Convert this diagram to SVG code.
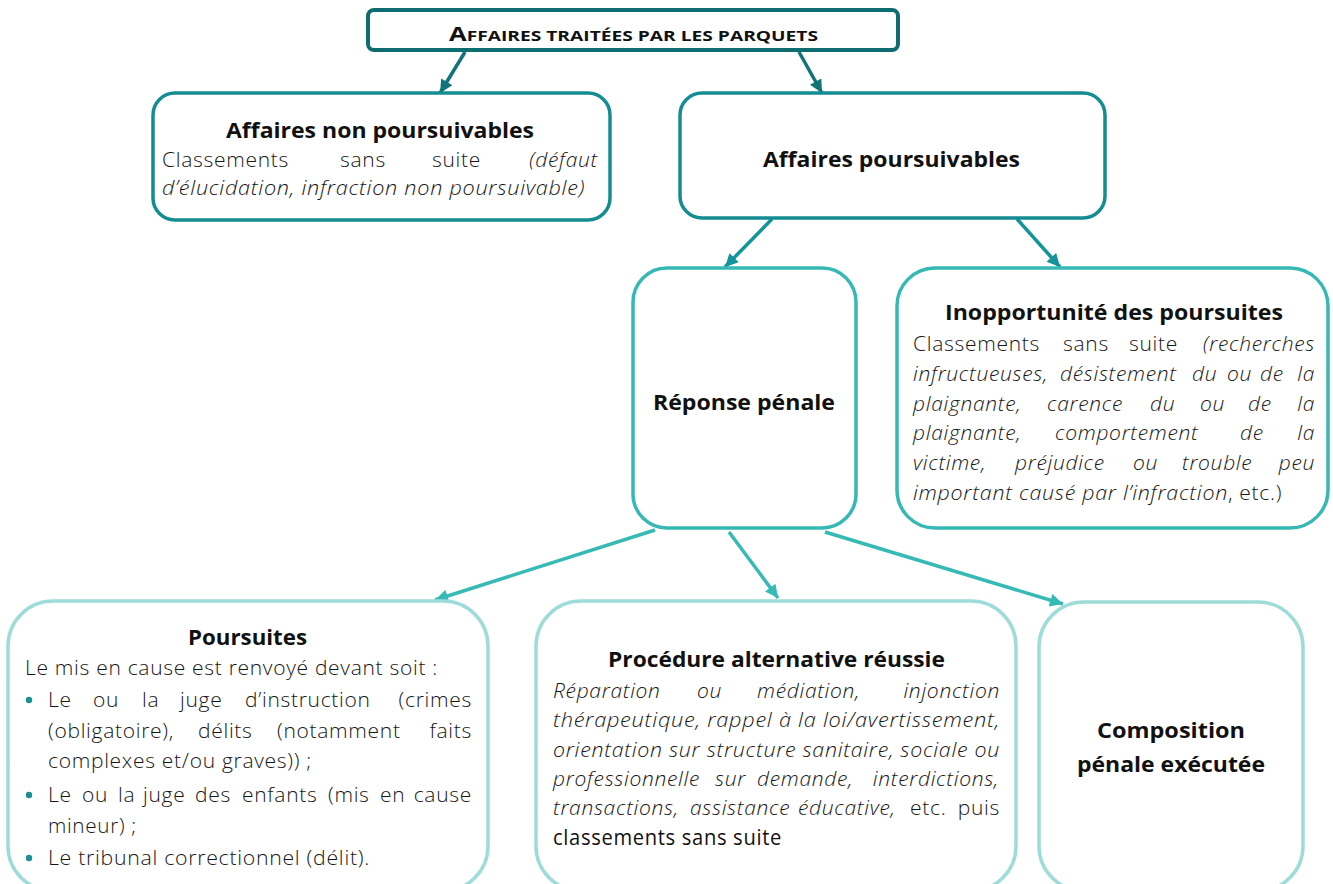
<svg xmlns="http://www.w3.org/2000/svg" width="1333" height="884" viewBox="0 0 1333 884">
<style>
text{font-family:"Open Sans","Liberation Sans",sans-serif;fill:#1e1e1e}
.t{font-weight:700;font-size:21px;fill:#111}
.b{font-weight:350;font-size:21px;letter-spacing:0.7px;fill:#161616}
.i{font-style:italic}
.e{text-anchor:end}
.r{font-weight:400;fill:#111}
.top{font-weight:700;fill:#111}
.n1{fill:#fff;stroke:#0e6d70;stroke-width:4}
.n2{fill:#fff;stroke:#138d92;stroke-width:3.5}
.n3{fill:#fff;stroke:#36b9b4;stroke-width:3.5}
.n4{fill:#fff;stroke:#9ddcd8;stroke-width:3.5}
.c1{stroke:#127378;stroke-width:3.5;fill:none}
.c2{stroke:#13939a;stroke-width:3.5;fill:none}
.c3{stroke:#36bab5;stroke-width:3.5;fill:none}
.dot{fill:#1a8f96}
</style>
<defs>
<marker id="m1" viewBox="0 0 10 10" refX="10" refY="5" markerWidth="15" markerHeight="13" markerUnits="userSpaceOnUse" orient="auto"><path d="M0,0 L10,5 L0,10 z" fill="#127378"/></marker>
<marker id="m2" viewBox="0 0 10 10" refX="10" refY="5" markerWidth="15" markerHeight="13" markerUnits="userSpaceOnUse" orient="auto"><path d="M0,0 L10,5 L0,10 z" fill="#13939a"/></marker>
<marker id="m3" viewBox="0 0 10 10" refX="10" refY="5" markerWidth="15" markerHeight="13" markerUnits="userSpaceOnUse" orient="auto"><path d="M0,0 L10,5 L0,10 z" fill="#36bab5"/></marker>
</defs>
<rect width="1333" height="884" fill="#fff"/>

<g id="connectors">
<line class="c1" x1="465" y1="52" x2="440" y2="93" marker-end="url(#m1)"/>
<line class="c1" x1="799" y1="52" x2="822" y2="93" marker-end="url(#m1)"/>
<line class="c2" x1="772" y1="219" x2="725" y2="267" marker-end="url(#m2)"/>
<line class="c2" x1="1017" y1="219" x2="1060" y2="267" marker-end="url(#m2)"/>
<line class="c3" x1="655" y1="530" x2="435" y2="600" marker-end="url(#m3)"/>
<line class="c3" x1="729" y1="532" x2="778" y2="598" marker-end="url(#m3)"/>
<line class="c3" x1="825" y1="532" x2="1063" y2="604" marker-end="url(#m3)"/>
</g>

<g id="n-top">
<rect class="n1" x="368" y="10" width="530" height="40" rx="6"/>
<text class="top" x="449" y="41" textLength="369" lengthAdjust="spacingAndGlyphs"><tspan font-size="20">A</tspan><tspan font-size="15">FFAIRES TRAITÉES PAR LES PARQUETS</tspan></text>
</g>

<g id="n-nonpours">
<rect class="n2" x="153" y="93" width="457" height="127" rx="22"/>
<text class="t" x="226" y="138" textLength="308" lengthAdjust="spacingAndGlyphs">Affaires non poursuivables</text>
<text class="b"><tspan x="162" y="167">Classements</tspan><tspan x="340" y="167">sans</tspan><tspan x="432" y="167">suite</tspan></text>
<text class="b i e" x="598" y="167">(défaut</text>
<text class="b i" x="162" y="195" textLength="423" lengthAdjust="spacingAndGlyphs">d’élucidation, infraction non poursuivable)</text>
</g>

<g id="n-pours">
<rect class="n2" x="680" y="93" width="425" height="125" rx="22"/>
<text class="t" x="763" y="167" textLength="257" lengthAdjust="spacingAndGlyphs">Affaires poursuivables</text>
</g>

<g id="n-reponse">
<rect class="n3" x="633" y="268" width="223" height="260" rx="34"/>
<text class="t" x="653" y="410" textLength="182" lengthAdjust="spacingAndGlyphs">Réponse pénale</text>
</g>

<g id="n-inop">
<rect class="n3" x="897" y="268" width="431" height="260" rx="38"/>
<text class="t" x="945" y="320" textLength="338" lengthAdjust="spacingAndGlyphs">Inopportunité des poursuites</text>
<text class="b"><tspan x="913" y="351">Classements</tspan><tspan x="1063" y="351">sans</tspan><tspan x="1129" y="351">suite</tspan></text>
<text class="b i e" x="1315" y="351">(recherches</text>
<text class="b i"><tspan x="913" y="381">infructueuses,</tspan><tspan x="1060" y="381">désistement</tspan><tspan x="1192" y="381">du</tspan><tspan x="1227" y="381">ou</tspan><tspan x="1260" y="381">de</tspan></text>
<text class="b i e" x="1315" y="381">la</text>
<text class="b i"><tspan x="913" y="411">plaignante,</tspan><tspan x="1047" y="411">carence</tspan><tspan x="1150" y="411">du</tspan><tspan x="1200" y="411">ou</tspan><tspan x="1248" y="411">de</tspan></text>
<text class="b i e" x="1315" y="411">la</text>
<text class="b i"><tspan x="913" y="440">plaignante,</tspan><tspan x="1055" y="440">comportement</tspan><tspan x="1240" y="440">de</tspan></text>
<text class="b i e" x="1315" y="440">la</text>
<text class="b i"><tspan x="913" y="470">victime,</tspan><tspan x="1015" y="470">préjudice</tspan><tspan x="1133" y="470">ou</tspan><tspan x="1182" y="470">trouble</tspan></text>
<text class="b i e" x="1315" y="470">peu</text>
<text class="b i" x="913" y="500" textLength="315" lengthAdjust="spacingAndGlyphs">important causé par l’infraction</text>
<text class="b" x="1228" y="500">, etc.)</text>
</g>

<g id="n-poursuites">
<rect class="n4" x="8" y="601" width="480" height="290" rx="45"/>
<text class="t" x="188" y="645" textLength="119" lengthAdjust="spacingAndGlyphs">Poursuites</text>
<text class="b" x="25" y="675" textLength="413" lengthAdjust="spacingAndGlyphs">Le mis en cause est renvoyé devant soit :</text>
<circle class="dot" cx="29" cy="700" r="3.2"/>
<text class="b"><tspan x="48" y="707">Le</tspan><tspan x="93" y="707">ou</tspan><tspan x="142" y="707">la</tspan><tspan x="180" y="707">juge</tspan><tspan x="245" y="707">d’instruction</tspan></text>
<text class="b e" x="472" y="707">(crimes</text>
<text class="b"><tspan x="48" y="738">(obligatoire),</tspan><tspan x="198" y="738">délits</tspan><tspan x="277" y="738">(notamment</tspan></text>
<text class="b e" x="472" y="738">faits</text>
<text class="b" x="48" y="768" textLength="264" lengthAdjust="spacingAndGlyphs">complexes et/ou graves)) ;</text>
<circle class="dot" cx="29" cy="795" r="3.2"/>
<text class="b"><tspan x="48" y="802">Le</tspan><tspan x="82" y="802">ou</tspan><tspan x="118" y="802">la</tspan><tspan x="143" y="802">juge</tspan><tspan x="195" y="802">des</tspan><tspan x="242" y="802">enfants</tspan><tspan x="328" y="802">(mis</tspan><tspan x="380" y="802">en</tspan></text>
<text class="b e" x="472" y="802">cause</text>
<text class="b" x="48" y="833" textLength="89" lengthAdjust="spacingAndGlyphs">mineur) ;</text>
<circle class="dot" cx="29" cy="858" r="3.2"/>
<text class="b" x="48" y="865" textLength="322" lengthAdjust="spacingAndGlyphs">Le tribunal correctionnel (délit).</text>
</g>

<g id="n-procedure">
<rect class="n4" x="536" y="601" width="480" height="290" rx="45"/>
<text class="t" x="608" y="667" textLength="337" lengthAdjust="spacingAndGlyphs">Procédure alternative réussie</text>
<text class="b i"><tspan x="553" y="698">Réparation</tspan><tspan x="697" y="698">ou</tspan><tspan x="757" y="698">médiation,</tspan></text>
<text class="b i e" x="1000" y="698">injonction</text>
<text class="b i" x="553" y="727" textLength="447" lengthAdjust="spacingAndGlyphs">thérapeutique, rappel à la loi/avertissement,</text>
<text class="b i" x="553" y="757" textLength="447" lengthAdjust="spacingAndGlyphs">orientation sur structure sanitaire, sociale ou</text>
<text class="b i"><tspan x="553" y="786">professionnelle</tspan><tspan x="715" y="786">sur</tspan><tspan x="757" y="786">demande,</tspan></text>
<text class="b i e" x="999" y="786">interdictions,</text>
<text class="b i"><tspan x="553" y="815">transactions,</tspan><tspan x="690" y="815">assistance</tspan><tspan x="798" y="815">éducative,</tspan></text>
<text class="b" x="910" y="815">etc.</text>
<text class="b e" x="1000" y="815">puis</text>
<text class="b r" x="553" y="845" textLength="229" lengthAdjust="spacingAndGlyphs">classements sans suite</text>
</g>

<g id="n-composition">
<rect class="n4" x="1039" y="602" width="264" height="289" rx="45"/>
<text class="t" x="1097" y="738" textLength="148" lengthAdjust="spacingAndGlyphs">Composition</text>
<text class="t" x="1077" y="772" textLength="188" lengthAdjust="spacingAndGlyphs">pénale exécutée</text>
</g>
</svg>
